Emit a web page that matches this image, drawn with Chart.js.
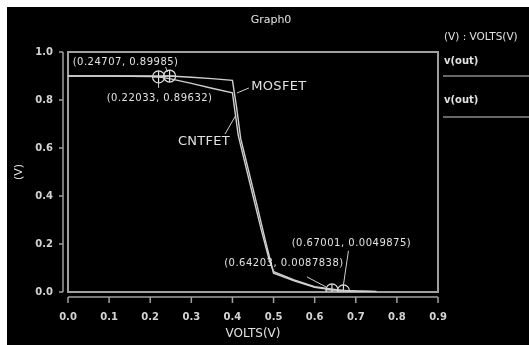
<!DOCTYPE html>
<html>
<head>
<meta charset="utf-8">
<script src="https://cdn.jsdelivr.net/npm/chart.js@4"></script>
<style>
  html, body { margin: 0; padding: 0; background: #fff; width: 529px; height: 345px; overflow: hidden; }
  #wrap { position: absolute; left: 7px; top: 7px; width: 522px; height: 338px; background: #000; }
</style>
</head>
<body>
<div id="wrap"><canvas id="graph" width="522" height="338"></canvas></div>
<script>
const xTicks = [0, 0.1, 0.2, 0.3, 0.4, 0.5, 0.6, 0.7, 0.8, 0.9];
const yTicks = [0, 0.2, 0.4, 0.6, 0.8, 1.0];

// upper curve
const cntfetX = [0, 0.1, 0.2, 0.24707, 0.3, 0.35, 0.4, 0.41, 0.42, 0.44, 0.46, 0.48, 0.5, 0.55, 0.6, 0.64203, 0.7, 0.75];
const cntfetY = [0.9, 0.9, 0.8999, 0.89985, 0.895, 0.889, 0.882, 0.77, 0.64, 0.5, 0.36, 0.215, 0.078, 0.046, 0.02, 0.0087838, 0.004, 0.002];

// lower curve
const mosfetX = [0, 0.1, 0.2, 0.22033, 0.25, 0.3, 0.35, 0.4, 0.414, 0.43, 0.45, 0.47, 0.49, 0.5, 0.55, 0.6, 0.67001, 0.75];
const mosfetY = [0.9, 0.9, 0.898, 0.89632, 0.888, 0.869, 0.849, 0.83, 0.654, 0.54, 0.4, 0.26, 0.13, 0.085, 0.05, 0.022, 0.0049875, 0.001];

const markerX = [0.22033, 0.24707, 0.64203, 0.67001];
const markerY = [0.89632, 0.89985, 0.0087838, 0.0049875];

const toPoints = (xs, ys) => xs.map((x, i) => ({ x, y: ys[i] }));
const markerPoints = toPoints(markerX, markerY);

// label offsets from the marked point (pixels)
const notes = [
  { i: 0, text: '(0.22033, 0.89632)', dx: 1, dy: 22, lead: [[0, 5], [0, 11]] },
  { i: 1, text: '(0.24707, 0.89985)', dx: -44, dy: -14, lead: [[-4, -9], [-2, -4]] },
  { i: 2, text: '(0.64203, 0.0087838)', dx: -48, dy: -26, lead: [[-25, -13], [-6, -3]] },
  { i: 3, text: '(0.67001, 0.0049875)', dx: 8, dy: -47, lead: [[5, -40], [0, -6]] }
];
const curveLabels = [
  { text: 'MOSFET', x: 0.401, y: 0.829, dx: 46, dy: -6, lead: [[16, -5], [4, 0]] },
  { text: 'CNTFET', x: 0.4087, y: 0.7375, dx: -32, dy: 27, lead: [[-11, 19], [0, 0]] }
];

const textColor = '#e2e2e2';
const frameColor = '#a0a0a0';

const scopeDecor = {
  id: 'scopeDecor',
  beforeDatasetsDraw(chart) {
    const { ctx, chartArea: a, scales } = chart;
    ctx.save();
    ctx.strokeStyle = frameColor;
    ctx.lineWidth = 2;
    ctx.strokeRect(a.left, a.top, a.right - a.left, a.bottom - a.top);

    // detached axis lines with outward ticks
    ctx.lineWidth = 1.5;
    ctx.beginPath();
    const ax = a.left - 5;
    ctx.moveTo(ax, a.top);
    ctx.lineTo(ax, a.bottom);
    yTicks.forEach((v) => {
      const py = scales.y.getPixelForValue(v);
      ctx.moveTo(ax, py);
      ctx.lineTo(ax - 4, py);
    });
    const ay = a.bottom + 5;
    ctx.moveTo(a.left, ay);
    ctx.lineTo(a.right, ay);
    xTicks.forEach((v) => {
      const px = scales.x.getPixelForValue(v);
      ctx.moveTo(px, ay);
      ctx.lineTo(px, ay + 6);
    });
    ctx.stroke();

    // legend column
    ctx.strokeStyle = '#8a8a8a';
    ctx.beginPath();
    ctx.moveTo(a.right + 5, 69);
    ctx.lineTo(522, 69);
    ctx.moveTo(a.right + 5, 110);
    ctx.lineTo(522, 110);
    ctx.stroke();

    ctx.fillStyle = textColor;
    ctx.textBaseline = 'middle';
    ctx.font = '11px "DejaVu Sans"';
    ctx.textAlign = 'center';
    ctx.fillText('Graph0', 264, 13);
    ctx.textAlign = 'left';
    ctx.font = '10.5px "DejaVu Sans"';
    ctx.fillText('(V) : VOLTS(V)', a.right + 6, 30);
    ctx.font = 'bold 10px "DejaVu Sans"';
    ctx.fillText('v(out)', a.right + 6, 54);
    ctx.fillText('v(out)', a.right + 6, 93);
    ctx.restore();
  },
  afterDatasetsDraw(chart) {
    const { ctx, scales } = chart;
    ctx.save();
    ctx.strokeStyle = '#cfcfcf';
    ctx.fillStyle = textColor;
    ctx.lineWidth = 1;
    ctx.textAlign = 'center';
    ctx.textBaseline = 'middle';
    ctx.font = '10px "DejaVu Sans"';
    ctx.letterSpacing = '0.5px';
    notes.forEach((n) => {
      const px = scales.x.getPixelForValue(markerX[n.i]);
      const py = scales.y.getPixelForValue(markerY[n.i]);
      ctx.fillText(n.text, px + n.dx, py + n.dy);
      ctx.beginPath();
      ctx.moveTo(px + n.lead[0][0], py + n.lead[0][1]);
      ctx.lineTo(px + n.lead[1][0], py + n.lead[1][1]);
      ctx.stroke();
    });
    ctx.font = '13px "DejaVu Sans"';
    ctx.letterSpacing = '0.3px';
    curveLabels.forEach((c) => {
      const px = scales.x.getPixelForValue(c.x);
      const py = scales.y.getPixelForValue(c.y);
      ctx.fillText(c.text, px + c.dx, py + c.dy);
      ctx.beginPath();
      ctx.moveTo(px + c.lead[0][0], py + c.lead[0][1]);
      ctx.lineTo(px + c.lead[1][0], py + c.lead[1][1]);
      ctx.stroke();
    });
    ctx.restore();
  }
};

const curveStyle = {
  showLine: true,
  pointRadius: 0,
  borderColor: '#d0d0d0',
  borderWidth: 1.4,
  tension: 0
};

new Chart(document.getElementById('graph'), {
  type: 'scatter',
  data: {
    datasets: [
      { label: 'CNTFET', data: toPoints(cntfetX, cntfetY), ...curveStyle },
      { label: 'MOSFET', data: toPoints(mosfetX, mosfetY), ...curveStyle },
      {
        label: 'markers', data: markerPoints, showLine: false,
        pointStyle: 'circle', pointRadius: 6, borderColor: '#e0e0e0', borderWidth: 1.2,
        backgroundColor: 'rgba(0,0,0,0)'
      },
      {
        label: 'cross', data: markerPoints, showLine: false,
        pointStyle: 'cross', pointRadius: 6, borderColor: '#e0e0e0', borderWidth: 1.2
      }
    ]
  },
  options: {
    responsive: false,
    animation: false,
    devicePixelRatio: 1,
    layout: { padding: { left: 0, top: 45, right: 91, bottom: 0 } },
    plugins: { legend: { display: false }, tooltip: { enabled: false } },
    scales: {
      x: {
        type: 'linear', min: 0, max: 0.9,
        afterFit: (s) => { s.height = 53; },
        afterBuildTicks: (s) => { s.ticks = xTicks.map((value) => ({ value })); },
        grid: { display: false, drawTicks: false },
        border: { display: false },
        ticks: {
          color: '#d4d4d4', padding: 19, maxRotation: 0, autoSkip: false,
          font: { family: 'DejaVu Sans', size: 10, weight: 'bold' },
          callback: (v) => Number(v).toFixed(1)
        },
        title: {
          display: true, text: 'VOLTS(V)', color: textColor,
          font: { family: 'DejaVu Sans', size: 12 }, padding: { top: 0, bottom: 4 }
        }
      },
      y: {
        type: 'linear', min: 0, max: 1.0,
        afterFit: (s) => { s.width = 61; },
        afterBuildTicks: (s) => { s.ticks = yTicks.map((value) => ({ value })); },
        grid: { display: false, drawTicks: false },
        border: { display: false },
        ticks: {
          color: '#d4d4d4', padding: 15, autoSkip: false,
          font: { family: 'DejaVu Sans', size: 10, weight: 'bold' },
          callback: (v) => Number(v).toFixed(1)
        },
        title: {
          display: true, text: '(V)', color: textColor,
          font: { family: 'DejaVu Sans', size: 11 }, padding: { top: 6, bottom: 0 }
        }
      }
    }
  },
  plugins: [scopeDecor]
});
</script>
</body>
</html>
